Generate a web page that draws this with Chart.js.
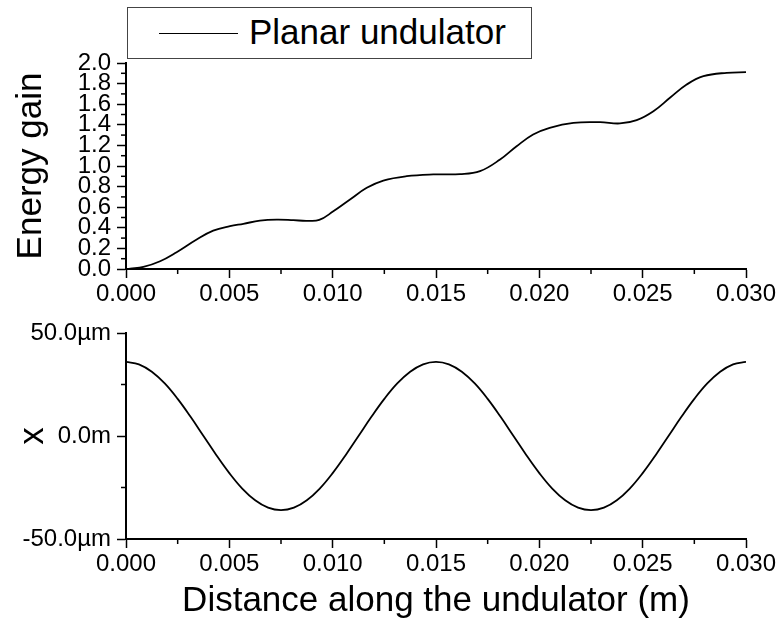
<!DOCTYPE html>
<html>
<head>
<meta charset="utf-8">
<script src="https://cdn.jsdelivr.net/npm/chart.js@4"></script>
<style>
  html, body { margin:0; padding:0; background:#fff; }
  #wrap { position:relative; width:783px; height:619px; font-family:"Liberation Sans", Arial, sans-serif; }
  #top { position:absolute; left:0; top:0; }
  #bottom { position:absolute; left:0; top:305px; }
  #legend { position:absolute; left:127px; top:7px; width:403px; height:50px; border:1.5px solid #444; background:#fff; }
  #legend .swatch { position:absolute; left:31px; top:25px; width:79px; height:0; border-top:1.5px solid #000; }
  #legend .label { position:absolute; left:121px; top:4px; font-size:35px; line-height:40px; color:#000; }
</style>
</head>
<body>
<div id="wrap">
  <canvas id="top" width="783" height="310"></canvas>
  <canvas id="bottom" width="783" height="314"></canvas>
  <div id="legend"><span class="swatch"></span><span class="label">Planar undulator</span></div>
</div>
<script>
(function(){
  // energy gain vs distance
  const gainZ = [0, 0.0002, 0.00084, 0.00165, 0.00245, 0.00342, 0.00422, 0.00503, 0.00568, 0.00648, 0.00729, 0.0081, 0.00874, 0.00935,
                 0.01003, 0.01084, 0.01165, 0.01245, 0.01358, 0.01487, 0.01616, 0.01713, 0.0181, 0.0189, 0.0197, 0.0205,
                 0.02165, 0.02294, 0.0239, 0.02471, 0.02552, 0.02632, 0.02713, 0.02794, 0.02907, 0.0300];
  const gain  = [0, 0.004, 0.02, 0.075, 0.163, 0.286, 0.372, 0.416, 0.439, 0.469, 0.479, 0.474, 0.468, 0.476,
                 0.56, 0.675, 0.788, 0.859, 0.901, 0.918, 0.921, 0.95, 1.063, 1.192, 1.306, 1.371,
                 1.419, 1.425, 1.413, 1.445, 1.532, 1.662, 1.791, 1.872, 1.905, 1.911];

  // transverse position x (µm) vs distance, one point every 0.000625 m
  const orbitZ = [];
  for(let i=0;i<=48;i++) orbitZ.push(i*0.000625);
  const orbitX = [36, 34.8, 31.2, 25.5, 18, 9.3, 0, -9.3, -18, -25.5, -31.2, -34.8,
                  -36, -34.8, -31.2, -25.5, -18, -9.3, 0, 9.3, 18, 25.5, 31.2, 34.8,
                  36, 34.8, 31.2, 25.5, 18, 9.3, 0, -9.3, -18, -25.5, -31.2, -34.8,
                  -36, -34.8, -31.2, -25.5, -18, -9.3, 0, 9.3, 18, 25.5, 31.2, 34.8, 36];

  const xTicks = [0, 0.005, 0.010, 0.015, 0.020, 0.025, 0.030];
  const gainTicks = [0, 0.2, 0.4, 0.6, 0.8, 1.0, 1.2, 1.4, 1.6, 1.8, 2.0];
  const orbitTicks = [-50, 0, 50];
  const orbitTickLabels = ['-50.0µm', '0.0m', '50.0µm'];

  const FONT = '"Liberation Sans", Arial, sans-serif';
  Chart.defaults.font.family = FONT;
  Chart.defaults.color = '#000';

  // short unlabeled ticks between the major ones
  const minorTicks = {
    id: 'minorTicks',
    afterDraw(chart, args, opts){
      const ctx = chart.ctx;
      ctx.save();
      ctx.strokeStyle = '#000';
      ctx.lineWidth = 1.5;
      Object.keys(opts.steps || {}).forEach(id => {
        const s = chart.scales[id], step = opts.steps[id];
        const n = Math.round((s.max - s.min) / step);
        for(let i=0;i<=n;i++){
          if(i % 2 === 0) continue;
          const p = s.getPixelForValue(s.min + i*step);
          ctx.beginPath();
          if(s.isHorizontal()){ ctx.moveTo(p, s.top); ctx.lineTo(p, s.top + 5); }
          else { ctx.moveTo(s.right, p); ctx.lineTo(s.right - 5, p); }
          ctx.stroke();
        }
      });
      ctx.restore();
    }
  };

  function axisBase(){
    return {
      border: { display:true, color:'#000', width:2 },
      grid: { display:true, drawOnChartArea:false, drawTicks:true, tickLength:9, tickColor:'#000', tickWidth:1.5 },
    };
  }

  function xAxis(height, withTitle){
    return Object.assign(axisBase(), {
      type:'linear', min:0, max:0.03,
      afterBuildTicks: s => { s.ticks = xTicks.map(v => ({ value:v })); },
      ticks: { autoSkip:false, maxRotation:0, padding:2, font:{ size:24 }, color:'#000', callback: v => v.toFixed(3) },
      title: withTitle ? { display:true, text:'Distance along the undulator (m)', font:{ size:35, lineHeight:1.0 }, color:'#000', padding:{ top:0, bottom:0 } } : { display:false },
      afterFit: s => { s.height = height; }
    });
  }

  const lineStyle = { borderColor:'#000', borderWidth:1.8, pointRadius:0, tension:0.4, fill:false };

  new Chart(document.getElementById('top'), {
    type:'line',
    data: { datasets: [Object.assign({ label:'Planar undulator', data: gainZ.map((z,i)=>({ x:z, y:gain[i] })) }, lineStyle)] },
    options: {
      responsive:false, animation:false,
      layout: { padding: { top:63, right:37, left:0, bottom:0 } },
      plugins: { legend:{ display:false }, tooltip:{ enabled:false }, minorTicks:{ steps:{ x:0.0025, y:0.1 } } },
      scales: {
        x: xAxis(41, false),
        y: Object.assign(axisBase(), {
          type:'linear', min:0, max:2,
          afterBuildTicks: s => { s.ticks = gainTicks.map(v => ({ value:v })); },
          ticks: { autoSkip:false, padding:6, font:{ size:24 }, color:'#000', callback: v => v.toFixed(1) },
          title: { display:true, text:'Energy gain', font:{ size:35 }, color:'#000', padding:{ top:10 } },
          afterFit: s => { s.width = 126; }
        })
      }
    },
    plugins:[minorTicks]
  });

  new Chart(document.getElementById('bottom'), {
    type:'line',
    data: { datasets: [Object.assign({ label:'x', data: orbitZ.map((z,i)=>({ x:z, y:orbitX[i] })) }, lineStyle)] },
    options: {
      responsive:false, animation:false,
      layout: { padding: { top:28, right:37, left:0, bottom:0 } },
      plugins: { legend:{ display:false }, tooltip:{ enabled:false }, minorTicks:{ steps:{ x:0.0025, y:25 } } },
      scales: {
        x: xAxis(80, true),
        y: Object.assign(axisBase(), {
          type:'linear', min:-50, max:50,
          afterBuildTicks: s => { s.ticks = orbitTicks.map(v => ({ value:v })); },
          ticks: { autoSkip:false, padding:6, font:{ size:24 }, color:'#000', callback: v => orbitTickLabels[orbitTicks.indexOf(v)] },
          title: { display:true, text:'x', font:{ size:35 }, color:'#000', padding:{ top:12 } },
          afterFit: s => { s.width = 126; }
        })
      }
    },
    plugins:[minorTicks]
  });
})();
</script>
</body>
</html>
